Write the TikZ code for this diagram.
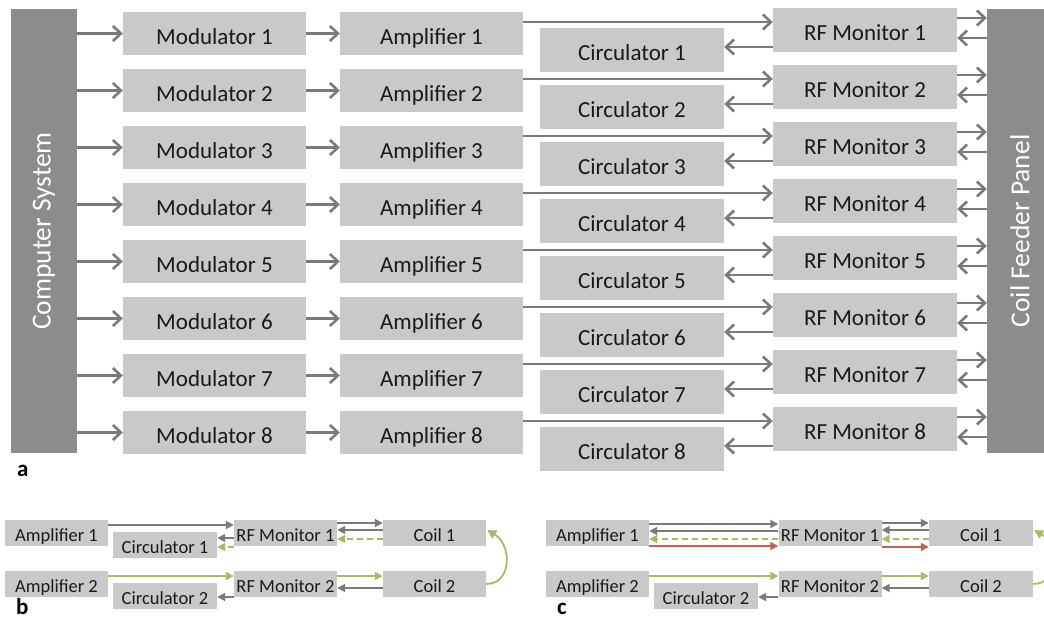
\documentclass[tikz,border=0pt]{standalone}
\usepackage{fontspec}
\setmainfont{Carlito}
\usetikzlibrary{arrows.meta}
\definecolor{boxgray}{HTML}{C9C9C9}
\definecolor{panelgray}{HTML}{8C8C8C}
\definecolor{arrgray}{HTML}{7A7A7A}
\definecolor{ogreen}{HTML}{A3BE62}
\definecolor{ored}{HTML}{C8604F}
\begin{document}
\begin{tikzpicture}[x=1pt,y=-1pt,
  bigbox/.style={fill=boxgray, inner sep=0pt, minimum width=183pt, minimum height=43pt,
    text height=21pt, text depth=0pt,
    font=\fontsize{23}{24}\selectfont, text=black!90},
  rfbox/.style={bigbox, minimum width=184pt, minimum height=44pt},
  panel/.style={fill=panelgray, inner sep=0pt, minimum width=66pt, minimum height=444pt},
  paneltext/.style={rotate=90, text=white, font=\fontsize{27.5}{28}\selectfont, inner sep=0pt},
  smallbox/.style={fill=boxgray, inner sep=0pt, minimum width=103pt, minimum height=26pt,
    text height=16pt, text depth=0pt,
    font=\fontsize{18.5}{19}\selectfont, text=black!90},
  tarr/.style={draw=arrgray, line width=2.6pt, -{Straight Barb[length=8pt,width=15pt]}},
  sarr/.style={draw=arrgray, line width=1.8pt, -{Triangle[length=8pt,width=8pt]}},
  garr/.style={sarr, draw=ogreen, fill=ogreen},
  gdash/.style={garr, dash pattern=on 6pt off 4pt},
  rarr/.style={sarr, draw=ored, fill=ored},
  lab/.style={font=\fontsize{23}{23}\selectfont\bfseries, inner sep=0pt, anchor=base west}
]
\useasboundingbox (0,0) rectangle (1044,621);

% ---------- panel a ----------
\node[panel] (cs) at (44,231) {};
\node[paneltext] (cst) at (cs.center) {Computer System};
\node[panel] (cf) at (1020,231) {};
\node[paneltext] (cft) at (cf.center) {Coil Feeder Panel};

\foreach \i in {1,...,8} {
  \pgfmathsetmacro\Y{57*(\i-1)}
  \node[bigbox] (mod\i) at (214.5,33.5+\Y) {Modulator \i};
  \node[bigbox] (amp\i) at (431.5,33.5+\Y) {Amplifier \i};
  \node[rfbox] (circ\i) at (632,50+\Y) {Circulator \i};
  \node[rfbox] (rf\i) at (865,30+\Y) {RF Monitor \i};
  \draw[tarr] (cs.east |- mod\i.west) -- (mod\i.west);
  \draw[tarr] (mod\i.east) -- (amp\i.west);
  \draw[tarr] ([yshift=11.5pt]amp\i.east) -- ([yshift=8pt]rf\i.west);
  \draw[tarr] ([yshift=-17pt]rf\i.west) -- ([yshift=3pt]circ\i.east);
  \draw[tarr] ([yshift=12pt]rf\i.east) -- ([yshift=12pt]rf\i.east -| cf.west);
  \draw[tarr] ([yshift=-8pt]rf\i.east -| cf.west) -- ([yshift=-8pt]rf\i.east);
}
\node[lab] (la) at (17,476) {a};

% ---------- panel b ----------
\node[smallbox] (bA1) at (56.5,533) {Amplifier 1};
\node[smallbox, minimum width=104pt] (bC1) at (165,545) {Circulator 1};
\node[smallbox] (bR1) at (285.5,533) {RF Monitor 1};
\node[smallbox] (bK1) at (434.5,533) {Coil 1};
\node[smallbox] (bA2) at (56.5,584) {Amplifier 2};
\node[smallbox, minimum width=104pt] (bC2) at (165,596) {Circulator 2};
\node[smallbox] (bR2) at (285.5,584) {RF Monitor 2};
\node[smallbox] (bK2) at (434.5,584) {Coil 2};

\draw[sarr] ([yshift=8pt]bA1.east) -- ([yshift=8pt]bR1.west);
\draw[sarr] ([yshift=-5pt]bR1.west) -- ([yshift=7pt]bC1.east);
\draw[gdash] ([yshift=-14pt]bR1.west) -- ([yshift=-2pt]bC1.east);
\draw[sarr] ([yshift=10pt]bR1.east) -- ([yshift=10pt]bK1.west);
\draw[sarr] ([yshift=3pt]bK1.west) -- ([yshift=3pt]bR1.east);
\draw[gdash] ([yshift=-6pt]bK1.west) -- ([yshift=-6pt]bR1.east);
\draw[garr] ([yshift=8pt]bA2.east) -- ([yshift=8pt]bR2.west);
\draw[sarr] ([yshift=-13pt]bR2.west) -- ([yshift=-1pt]bC2.east);
\draw[garr] ([yshift=8pt]bR2.east) -- ([yshift=8pt]bK2.west);
\draw[sarr] ([yshift=-4pt]bK2.west) -- ([yshift=-4pt]bR2.east);
\draw[garr, fill=none, -{Triangle[length=9pt,width=9pt,fill=ogreen]}] (bK2.east) .. controls ([xshift=26pt]bK2.east) and ([xshift=26pt,yshift=-12pt]bK1.east) .. ([xshift=1pt,yshift=3pt]bK1.east);
\node[lab] (lb) at (16,614) {b};

% ---------- panel c ----------
\node[smallbox] (cA1) at (597.5,533) {Amplifier 1};
\node[smallbox] (cR1) at (830,533) {RF Monitor 1};
\node[smallbox, minimum width=104pt] (cK1) at (981,533) {Coil 1};
\node[smallbox] (cA2) at (597.5,584) {Amplifier 2};
\node[smallbox, minimum width=104pt] (cC2) at (706,596) {Circulator 2};
\node[smallbox] (cR2) at (830,584) {RF Monitor 2};
\node[smallbox, minimum width=104pt] (cK2) at (981,584) {Coil 2};

\draw[sarr] ([yshift=9pt]cA1.east) -- ([yshift=9pt]cR1.west);
\draw[sarr] ([yshift=2pt]cR1.west) -- ([yshift=2pt]cA1.east);
\draw[gdash] ([yshift=-6pt]cR1.west) -- ([yshift=-6pt]cA1.east);
\draw[rarr] ([yshift=-13pt]cA1.east) -- ([yshift=-13pt]cR1.west);
\draw[sarr] ([yshift=10pt]cR1.east) -- ([yshift=10pt]cK1.west);
\draw[sarr] ([yshift=3pt]cK1.west) -- ([yshift=3pt]cR1.east);
\draw[gdash] ([yshift=-6pt]cK1.west) -- ([yshift=-6pt]cR1.east);
\draw[rarr] ([yshift=-14pt]cR1.east) -- ([yshift=-14pt]cK1.west);
\draw[garr] ([yshift=8pt]cA2.east) -- ([yshift=8pt]cR2.west);
\draw[sarr] ([yshift=-13pt]cR2.west) -- ([yshift=-1pt]cC2.east);
\draw[garr] ([yshift=8pt]cR2.east) -- ([yshift=8pt]cK2.west);
\draw[sarr] ([yshift=-4pt]cK2.west) -- ([yshift=-4pt]cR2.east);
\draw[garr, fill=none, -{Triangle[length=9pt,width=9pt,fill=ogreen]}] (cK2.east) .. controls ([xshift=26pt]cK2.east) and ([xshift=26pt,yshift=-12pt]cK1.east) .. ([xshift=1pt,yshift=3pt]cK1.east);
\node[lab] (lc) at (557,614) {c};
\end{tikzpicture}
\end{document}
